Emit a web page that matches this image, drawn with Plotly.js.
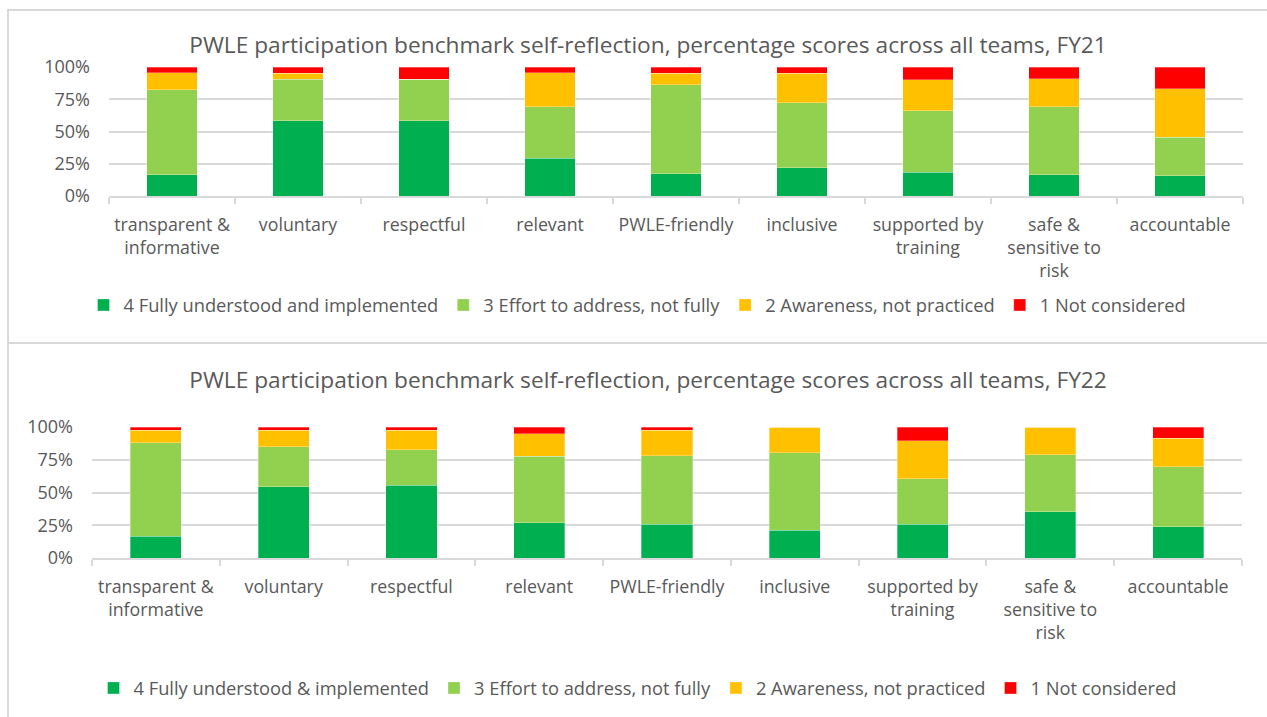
<!DOCTYPE html>
<html>
<head>
<meta charset="utf-8">
<script src="https://cdn.plot.ly/plotly-3.0.1.min.js"></script>
<style>
  html, body { margin: 0; padding: 0; background: #fff; width: 1267px; height: 717px; overflow: hidden; }
  .box { position: absolute; left: 7px; width: 1262px; border: 2px solid #D9D9D9; box-sizing: border-box; }
  #box1 { top: 9px; height: 335px; }
  #box2 { top: 342px; height: 400px; }
  #chart1 { position: absolute; left: 8px; top: 10px; width: 1259px; height: 332px; }
  #chart2 { position: absolute; left: 8px; top: 343px; width: 1259px; height: 374px; }
</style>
</head>
<body>
<div class="box" id="box1"></div>
<div class="box" id="box2"></div>
<div id="chart1"></div>
<div id="chart2"></div>
<script>
// Categories (tick labels)
const categoriesFY21 = ["transparent &<br>informative", "voluntary", "respectful", "relevant", "PWLE-friendly", "inclusive", "supported by<br>training", "safe &<br>sensitive to<br>risk", "accountable"];
const categoriesFY22 = ["transparent &<br>informative", "voluntary", "respectful", "relevant", "PWLE-friendly", "inclusive", "supported by<br>training", "safe &<br>sensitive to<br>risk", "accountable"];

// FY21 values (fractions)
const fy21_fully   = [0.165, 0.582, 0.582, 0.294, 0.173, 0.219, 0.186, 0.165, 0.157];
const fy21_effort  = [0.657, 0.323, 0.323, 0.397, 0.688, 0.503, 0.476, 0.526, 0.297];
const fy21_aware   = [0.132, 0.046, 0.000, 0.263, 0.090, 0.229, 0.240, 0.219, 0.376];
const fy21_notcons = [0.046, 0.049, 0.095, 0.046, 0.049, 0.049, 0.098, 0.090, 0.170];

// FY22 values (fractions)
const fy22_fully   = [0.165, 0.544, 0.554, 0.271, 0.258, 0.213, 0.256, 0.354, 0.238];
const fy22_effort  = [0.713, 0.304, 0.274, 0.504, 0.524, 0.590, 0.349, 0.436, 0.458];
const fy22_aware   = [0.097, 0.127, 0.147, 0.172, 0.193, 0.197, 0.291, 0.210, 0.220];
const fy22_notcons = [0.025, 0.025, 0.025, 0.053, 0.025, 0.000, 0.104, 0.000, 0.084];

const namesFY21 = ["4 Fully understood and implemented", "3 Effort to address, not fully", "2 Awareness, not practiced", "1 Not considered"];
const namesFY22 = ["4 Fully understood & implemented", "3 Effort to address, not fully", "2 Awareness, not practiced", "1 Not considered"];
const colors = ["#00B050", "#92D050", "#FFC000", "#FF0000"];

const FONT = "Open Sans, Noto Sans, sans-serif";
const TXT = "#595959";

function traces(cats, series, names) {
  return series.map((vals, i) => ({
    type: "bar",
    x: cats,
    y: vals,
    name: names[i],
    marker: { color: colors[i], line: { color: "rgba(255,255,255,0.6)", width: 0.5 } },
    hoverinfo: "x+y+name"
  }));
}

function layout(title, margins, titleX, titleY, legendY) {
  return {
    width: 1259,
    height: margins.h,
    margin: { l: margins.l, r: margins.r, t: margins.t, b: margins.b, pad: 0 },
    paper_bgcolor: "rgba(0,0,0,0)",
    plot_bgcolor: "rgba(0,0,0,0)",
    barmode: "stack",
    bargap: 0.6,
    font: { family: FONT, color: TXT, size: 18 },
    title: { text: title, font: { family: FONT, size: 22.7, color: TXT }, x: titleX, xanchor: "center", xref: "container", y: titleY, yanchor: "middle", yref: "container" },
    showlegend: true,
    legend: { orientation: "h", x: 0.5, xanchor: "center", xref: "container", y: legendY, yanchor: "middle", yref: "container", traceorder: "normal", font: { family: FONT, size: 18.3, color: TXT }, itemwidth: 30 },
    xaxis: {
      type: "category",
      showgrid: false,
      showline: true,
      linecolor: "#D9D9D9",
      linewidth: 1.5,
      ticks: "outside",
      tickson: "boundaries",
      ticklen: 6,
      tickcolor: "#D9D9D9",
      tickwidth: 1.5,
      tickangle: 0,
      ticklabelstandoff: 12,
      tickfont: { family: FONT, size: 17.8, color: TXT },
      fixedrange: true
    },
    yaxis: {
      range: [0, 1],
      tickvals: [0, 0.25, 0.5, 0.75, 1],
      ticktext: ["0%", "25%", "50%", "75%", "100%"],
      showgrid: true,
      gridcolor: "#D9D9D9",
      gridwidth: 1.5,
      zeroline: false,
      showline: false,
      ticks: "",
      ticklabelstandoff: 18,
      tickfont: { family: FONT, size: 18, color: TXT },
      fixedrange: true
    }
  };
}

Plotly.newPlot("chart1",
  traces(categoriesFY21, [fy21_fully, fy21_effort, fy21_aware, fy21_notcons], namesFY21),
  layout("PWLE participation benchmark self-reflection, percentage scores across all teams, FY21",
         { h: 332, l: 101, r: 24, t: 57, b: 146 }, (648 - 8) / 1259, 1 - 35 / 332, 1 - 295 / 332),
  { displayModeBar: false, staticPlot: false });

Plotly.newPlot("chart2",
  traces(categoriesFY22, [fy22_fully, fy22_effort, fy22_aware, fy22_notcons], namesFY22),
  layout("PWLE participation benchmark self-reflection, percentage scores across all teams, FY22",
         { h: 374, l: 84, r: 25, t: 84, b: 159 }, (648 - 8) / 1259, 1 - 37 / 374, 1 - 345 / 374),
  { displayModeBar: false, staticPlot: false });
</script>
</body>
</html>
